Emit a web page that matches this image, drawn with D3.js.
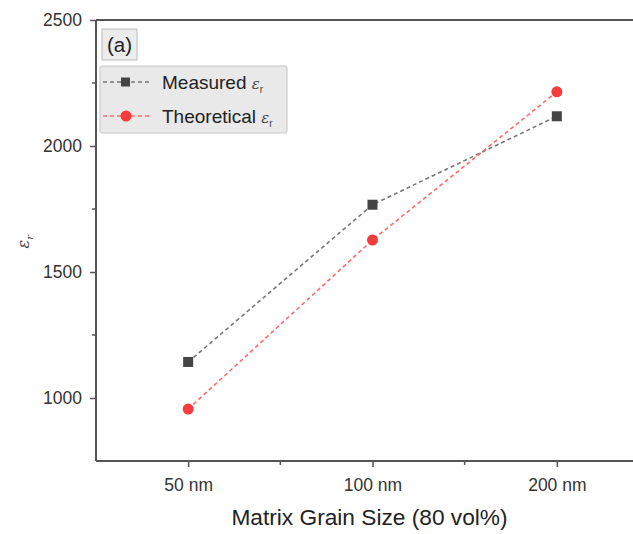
<!DOCTYPE html>
<html>
<head>
<meta charset="utf-8">
<script src="https://cdn.jsdelivr.net/npm/d3@7"></script>
<style>
  html, body { margin: 0; padding: 0; background: #fff; }
  svg { display: block; font-family: "Liberation Sans", Arial, sans-serif; }
</style>
</head>
<body>
<svg id="chart" width="633" height="534"></svg>
<script>
// Dielectric constant vs. matrix grain size (80 vol%)
const categories = ["50 nm", "100 nm", "200 nm"];
const measured = [1143, 1767, 2118];
const theoretical = [956, 1627, 2215];
const yMajorTicks = [1000, 1500, 2000, 2500];
const yMinorTicks = [1250, 1750, 2250];
const seriesNames = ["Measured", "Theoretical"];

const svg = d3.select("#chart");
const axisColor = "#555";
const tickFont = 17.5;

const x = d3.scaleLinear().domain([-0.5, 2.5]).range([96, 649]);
const y = d3.scaleLinear().domain([750, 2500]).range([461, 20]);

// frame: top edge runs off to the right
svg.append("line")
  .attr("x1", x(-0.5)).attr("x2", 633)
  .attr("y1", y(2500)).attr("y2", y(2500))
  .attr("stroke", axisColor).attr("stroke-width", 2);

// x axis
const xAxis = d3.axisBottom(x)
  .tickValues(categories.map((d, i) => i))
  .tickFormat(i => categories[i])
  .tickSize(6).tickPadding(12);
const gx = svg.append("g").attr("transform", `translate(0,${y(750)})`).call(xAxis);
gx.select(".domain").attr("stroke", axisColor).attr("stroke-width", 2)
  .attr("d", `M${x(-0.5)},0H633`);
gx.selectAll(".tick line").attr("stroke", axisColor).attr("stroke-width", 1.5);
gx.selectAll(".tick text").attr("fill", "#333").attr("font-size", tickFont)
  .attr("font-family", "Liberation Sans, Arial, sans-serif");
gx.selectAll(".minor").data([0.5, 1.5]).enter().append("line")
  .attr("class", "minor")
  .attr("x1", d => x(d)).attr("x2", d => x(d))
  .attr("y1", 0).attr("y2", 4)
  .attr("stroke", axisColor).attr("stroke-width", 1.5);

// y axis
const yAxis = d3.axisLeft(y).tickValues(yMajorTicks).tickFormat(d3.format("d"))
  .tickSize(6).tickPadding(8);
const gy = svg.append("g").attr("transform", `translate(${x(-0.5)},0)`).call(yAxis);
gy.select(".domain").attr("stroke", axisColor).attr("stroke-width", 2)
  .attr("d", `M0,${y(2500)}V${y(750)}`);
gy.selectAll(".tick line").attr("stroke", axisColor).attr("stroke-width", 1.5);
gy.selectAll(".tick text").attr("fill", "#333").attr("font-size", tickFont)
  .attr("font-family", "Liberation Sans, Arial, sans-serif");
gy.selectAll(".minor").data(yMinorTicks).enter().append("line")
  .attr("class", "minor")
  .attr("x1", 0).attr("x2", -4)
  .attr("y1", d => y(d)).attr("y2", d => y(d))
  .attr("stroke", axisColor).attr("stroke-width", 1.5);

// axis titles
svg.append("text")
  .attr("x", 369.5).attr("y", 525)
  .attr("text-anchor", "middle")
  .attr("font-size", 22.7).attr("fill", "#222")
  .text("Matrix Grain Size (80 vol%)");

const yt = svg.append("text")
  .attr("transform", `translate(29,${y(1620)}) rotate(-90)`)
  .attr("text-anchor", "middle")
  .attr("font-size", 16).attr("fill", "#444")
  .attr("font-family", "DejaVu Serif, serif").attr("font-style", "italic");
yt.append("tspan").text("ε");
yt.append("tspan").attr("font-size", 10).attr("dy", 4).text("r");

// series
const line = d3.line().x((d, i) => x(i)).y(d => y(d));
const series = [
  { name: seriesNames[0], values: measured, line: "#777", mark: "#444", shape: "square" },
  { name: seriesNames[1], values: theoretical, line: "#ff6b6b", mark: "#f53b3b", shape: "circle" }
];

series.forEach(s => {
  svg.append("path")
    .datum(s.values)
    .attr("d", line)
    .attr("fill", "none")
    .attr("stroke", s.line)
    .attr("stroke-width", 1.6)
    .attr("stroke-dasharray", "4,3");
  const g = svg.append("g");
  if (s.shape === "square") {
    g.selectAll("rect").data(s.values).enter().append("rect")
      .attr("x", (d, i) => x(i) - 5).attr("y", d => y(d) - 5)
      .attr("width", 10).attr("height", 10)
      .attr("fill", s.mark);
  } else {
    g.selectAll("circle").data(s.values).enter().append("circle")
      .attr("cx", (d, i) => x(i)).attr("cy", d => y(d))
      .attr("r", 5.5).attr("fill", s.mark);
  }
});

// panel label
svg.append("rect")
  .attr("x", 102).attr("y", 29).attr("width", 35).attr("height", 31)
  .attr("fill", "#ececec").attr("stroke", "#bbb").attr("stroke-width", 1);
svg.append("text")
  .attr("x", 119.5).attr("y", 52)
  .attr("text-anchor", "middle")
  .attr("font-size", 20.5).attr("fill", "#222")
  .text("(a)");

// legend
svg.append("rect")
  .attr("x", 100).attr("y", 66).attr("width", 187).attr("height", 67)
  .attr("rx", 2)
  .attr("fill", "#e9e9e9").attr("stroke", "#c4c4c4").attr("stroke-width", 1);

series.forEach((s, i) => {
  const ly = 82 + i * 34;
  svg.append("line")
    .attr("x1", 103).attr("x2", 150).attr("y1", ly).attr("y2", ly)
    .attr("stroke", s.line).attr("stroke-width", 1.6)
    .attr("stroke-dasharray", "4,3");
  if (s.shape === "square") {
    svg.append("rect").attr("x", 121).attr("y", ly - 4.5)
      .attr("width", 9).attr("height", 9).attr("fill", s.mark);
  } else {
    svg.append("circle").attr("cx", 126).attr("cy", ly).attr("r", 5.5).attr("fill", s.mark);
  }
  const t = svg.append("text")
    .attr("x", 162).attr("y", ly + 7)
    .attr("font-size", 19).attr("fill", "#222");
  t.append("tspan").text(s.name + " ");
  t.append("tspan").attr("font-family", "DejaVu Serif, serif").attr("font-style", "italic")
    .attr("font-size", 15).attr("fill", "#444").text("ε");
  t.append("tspan").attr("font-size", 10).attr("dy", 4).attr("fill", "#444").text("r");
});
</script>
</body>
</html>
